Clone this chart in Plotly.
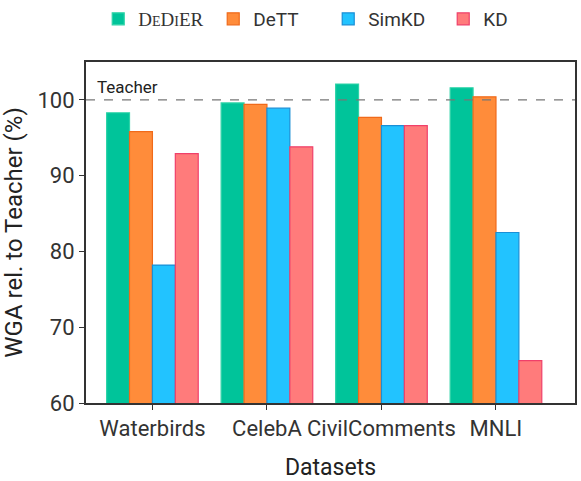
import plotly.graph_objects as go

datasets = ["Waterbirds", "CelebA", "CivilComments", "MNLI"]
methods = ["DeDiER", "DeTT", "SimKD", "KD"]
legend_names = [
    "<span style='font-family:Liberation Serif'>D<span style='font-size:14px'>E</span>D<span style='font-size:14px'>I</span>ER</span>",
    "DeTT", "SimKD", "KD",
]
dedier = [98.3, 99.6, 102.1, 101.6]
dett = [95.8, 99.4, 97.7, 100.4]
simkd = [78.2, 98.9, 96.6, 82.5]
kd = [92.9, 93.8, 96.6, 65.6]
teacher = 100
yticks = [60, 70, 80, 90, 100]

fills = ["#00C49A", "#FF8C3A", "#22C3FF", "#FF7B7B"]
edges = ["#2FD3A8", "#F06A1A", "#1A8FD6", "#F0406A"]

fig = go.Figure()
for name, vals, fc, ec in zip(legend_names, [dedier, dett, simkd, kd], fills, edges):
    fig.add_trace(go.Bar(
        x=list(range(len(datasets))), y=vals, name=name,
        marker=dict(color=fc, line=dict(color=ec, width=1.2)),
    ))

fig.add_hline(y=teacher, line=dict(color="#777777", width=1.2, dash="dash"))
fig.add_annotation(x=-0.5, y=teacher, xref="x", yref="y", text="Teacher",
                   showarrow=False, xanchor="left", yanchor="bottom", yshift=1,
                   font=dict(size=17, color="#222222"))

fig.update_layout(
    width=581, height=481,
    margin=dict(l=86, r=6, t=62, b=78, autoexpand=False),
    paper_bgcolor="white", plot_bgcolor="white",
    font=dict(family="Roboto", color="#333333"),
    barmode="group", bargap=0.2, bargroupgap=0,
    showlegend=True,
    legend=dict(orientation="h", x=0.025, xanchor="left", y=1.0, yref="container",
                yanchor="top", font=dict(size=19, color="#333333"),
                itemwidth=30, traceorder="normal", tracegroupgap=0,
                entrywidth=70),
    xaxis=dict(
        range=[-0.58, 3.69], tickmode="array", tickvals=list(range(len(datasets))),
        ticktext=datasets, tickfont=dict(size=22, color="#333333"),
        ticks="outside", ticklen=5, tickcolor="#333333",
        showline=True, linecolor="#333333", linewidth=2, mirror=True,
        showgrid=False, zeroline=False, automargin=False,
        title=dict(text="Datasets", font=dict(size=23, color="#222222"), standoff=20),
    ),
    yaxis=dict(
        range=[60, 105], tickvals=yticks, tickfont=dict(size=22, color="#333333"),
        ticks="outside", ticklen=5, tickcolor="#333333",
        showline=True, linecolor="#333333", linewidth=2, mirror=True,
        showgrid=False, zeroline=False, automargin=False,
        title=dict(text="WGA rel. to Teacher (%)", font=dict(size=24, color="#222222"), standoff=8),
    ),
)

fig.write_html("out.html")
